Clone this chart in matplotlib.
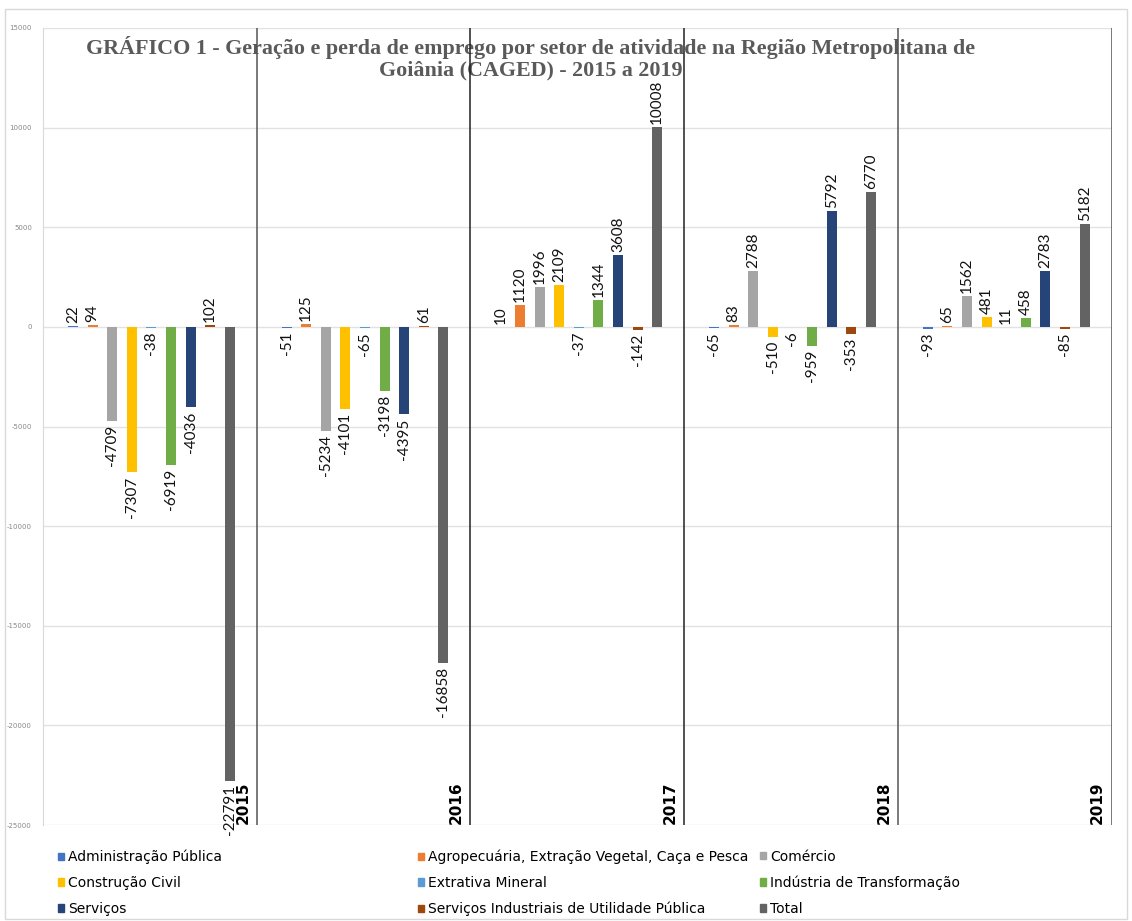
import numpy as np
import matplotlib.pyplot as plt
from matplotlib.patches import Patch, Rectangle

anos = ['2015', '2016', '2017', '2018', '2019']
setores = ['Administração Pública', 'Agropecuária, Extração Vegetal, Caça e Pesca', 'Comércio',
           'Construção Civil', 'Extrativa Mineral', 'Indústria de Transformação',
           'Serviços', 'Serviços Industriais de Utilidade Pública', 'Total']
cores = ['#4472C4', '#ED7D31', '#A5A5A5', '#FFC000', '#5B9BD5', '#70AD47',
         '#264478', '#9E480E', '#636363']

adm = [22, -51, 10, -65, -93]
agro = [94, 125, 1120, 83, 65]
comercio = [-4709, -5234, 1996, 2788, 1562]
construcao = [-7307, -4101, 2109, -510, 481]
extrativa = [-38, -65, -37, -6, 11]
industria = [-6919, -3198, 1344, -959, 458]
servicos = [-4036, -4395, 3608, 5792, 2783]
siup = [102, 61, -142, -353, -85]
total = [-22791, -16858, 10008, 6770, 5182]
series = [adm, agro, comercio, construcao, extrativa, industria, servicos, siup, total]

fig = plt.figure(figsize=(11.32, 9.21), dpi=100)
ax = fig.add_axes([0.038, 0.1042, 0.944, 0.8654])

larg = 0.047
passo = 0.0917
for i, (vals, cor) in enumerate(zip(series, cores)):
    x = np.arange(len(anos)) + 0.14 + i * passo
    ax.bar(x, vals, width=larg, color=cor, zorder=2)
    for xi, v in zip(x, vals):
        off = 150 if v >= 0 else -200
        ax.text(xi, v + off, str(v), rotation=90, ha='center',
                va='bottom' if v >= 0 else 'top', fontsize=11,
                family='Lato', color='#111111', zorder=3)

# separadores entre anos
for k in range(1, len(anos) + 1):
    ax.axvline(k, color='#222222' if k in (2, 3) else '#555555', lw=1.1, zorder=4)
for k, ano in enumerate(anos):
    ax.text(k + 0.97, -24950, ano, rotation=90, ha='right', va='bottom',
            fontsize=11, fontweight='bold', family='DejaVu Sans', zorder=5)

ax.set_xlim(0, len(anos))
ax.set_ylim(-25000, 15000)
ax.set_yticks(np.arange(-25000, 15001, 5000))
ax.set_yticklabels([str(t) for t in range(-25000, 15001, 5000)], fontsize=5, color='#888888')
ax.tick_params(axis='y', length=0, pad=8)
ax.set_xticks([])
ax.grid(axis='y', color='#e2e2e2', lw=1, zorder=0)
for s in ['top', 'right', 'bottom']:
    ax.spines[s].set_visible(False)
ax.spines['left'].set_color('#d9d9d9')

ax.text(0.4565, 0.962, 'GRÁFICO 1 - Geração e perda de emprego por setor de atividade na Região Metropolitana de\nGoiânia (CAGED) - 2015 a 2019',
        transform=ax.transAxes, ha='center', va='center', fontsize=15.8, fontweight='bold',
        family='Liberation Serif', color='#5a5a5a', linespacing=1.05, zorder=3)

# legenda em tres colunas, preenchida por linha
colunas = [[0, 3, 6], [1, 4, 7], [2, 5, 8]]
xs = [0.04, 0.358, 0.66]
for xl, col in zip(xs, colunas):
    hs = [Patch(color=cores[j], label=setores[j]) for j in col]
    fig.legend(handles=hs, loc='upper left', bbox_to_anchor=(xl, 0.091), frameon=False,
               handlelength=0.45, handleheight=0.45, handletextpad=0.3,
               labelspacing=0.85, prop={'family': 'DejaVu Sans', 'size': 10})

fig.patches.append(Rectangle((0.004, 0.002), 0.992, 0.988, transform=fig.transFigure,
                             fill=False, edgecolor='#d9d9d9', lw=1))

fig.savefig('out.png', dpi=100)
